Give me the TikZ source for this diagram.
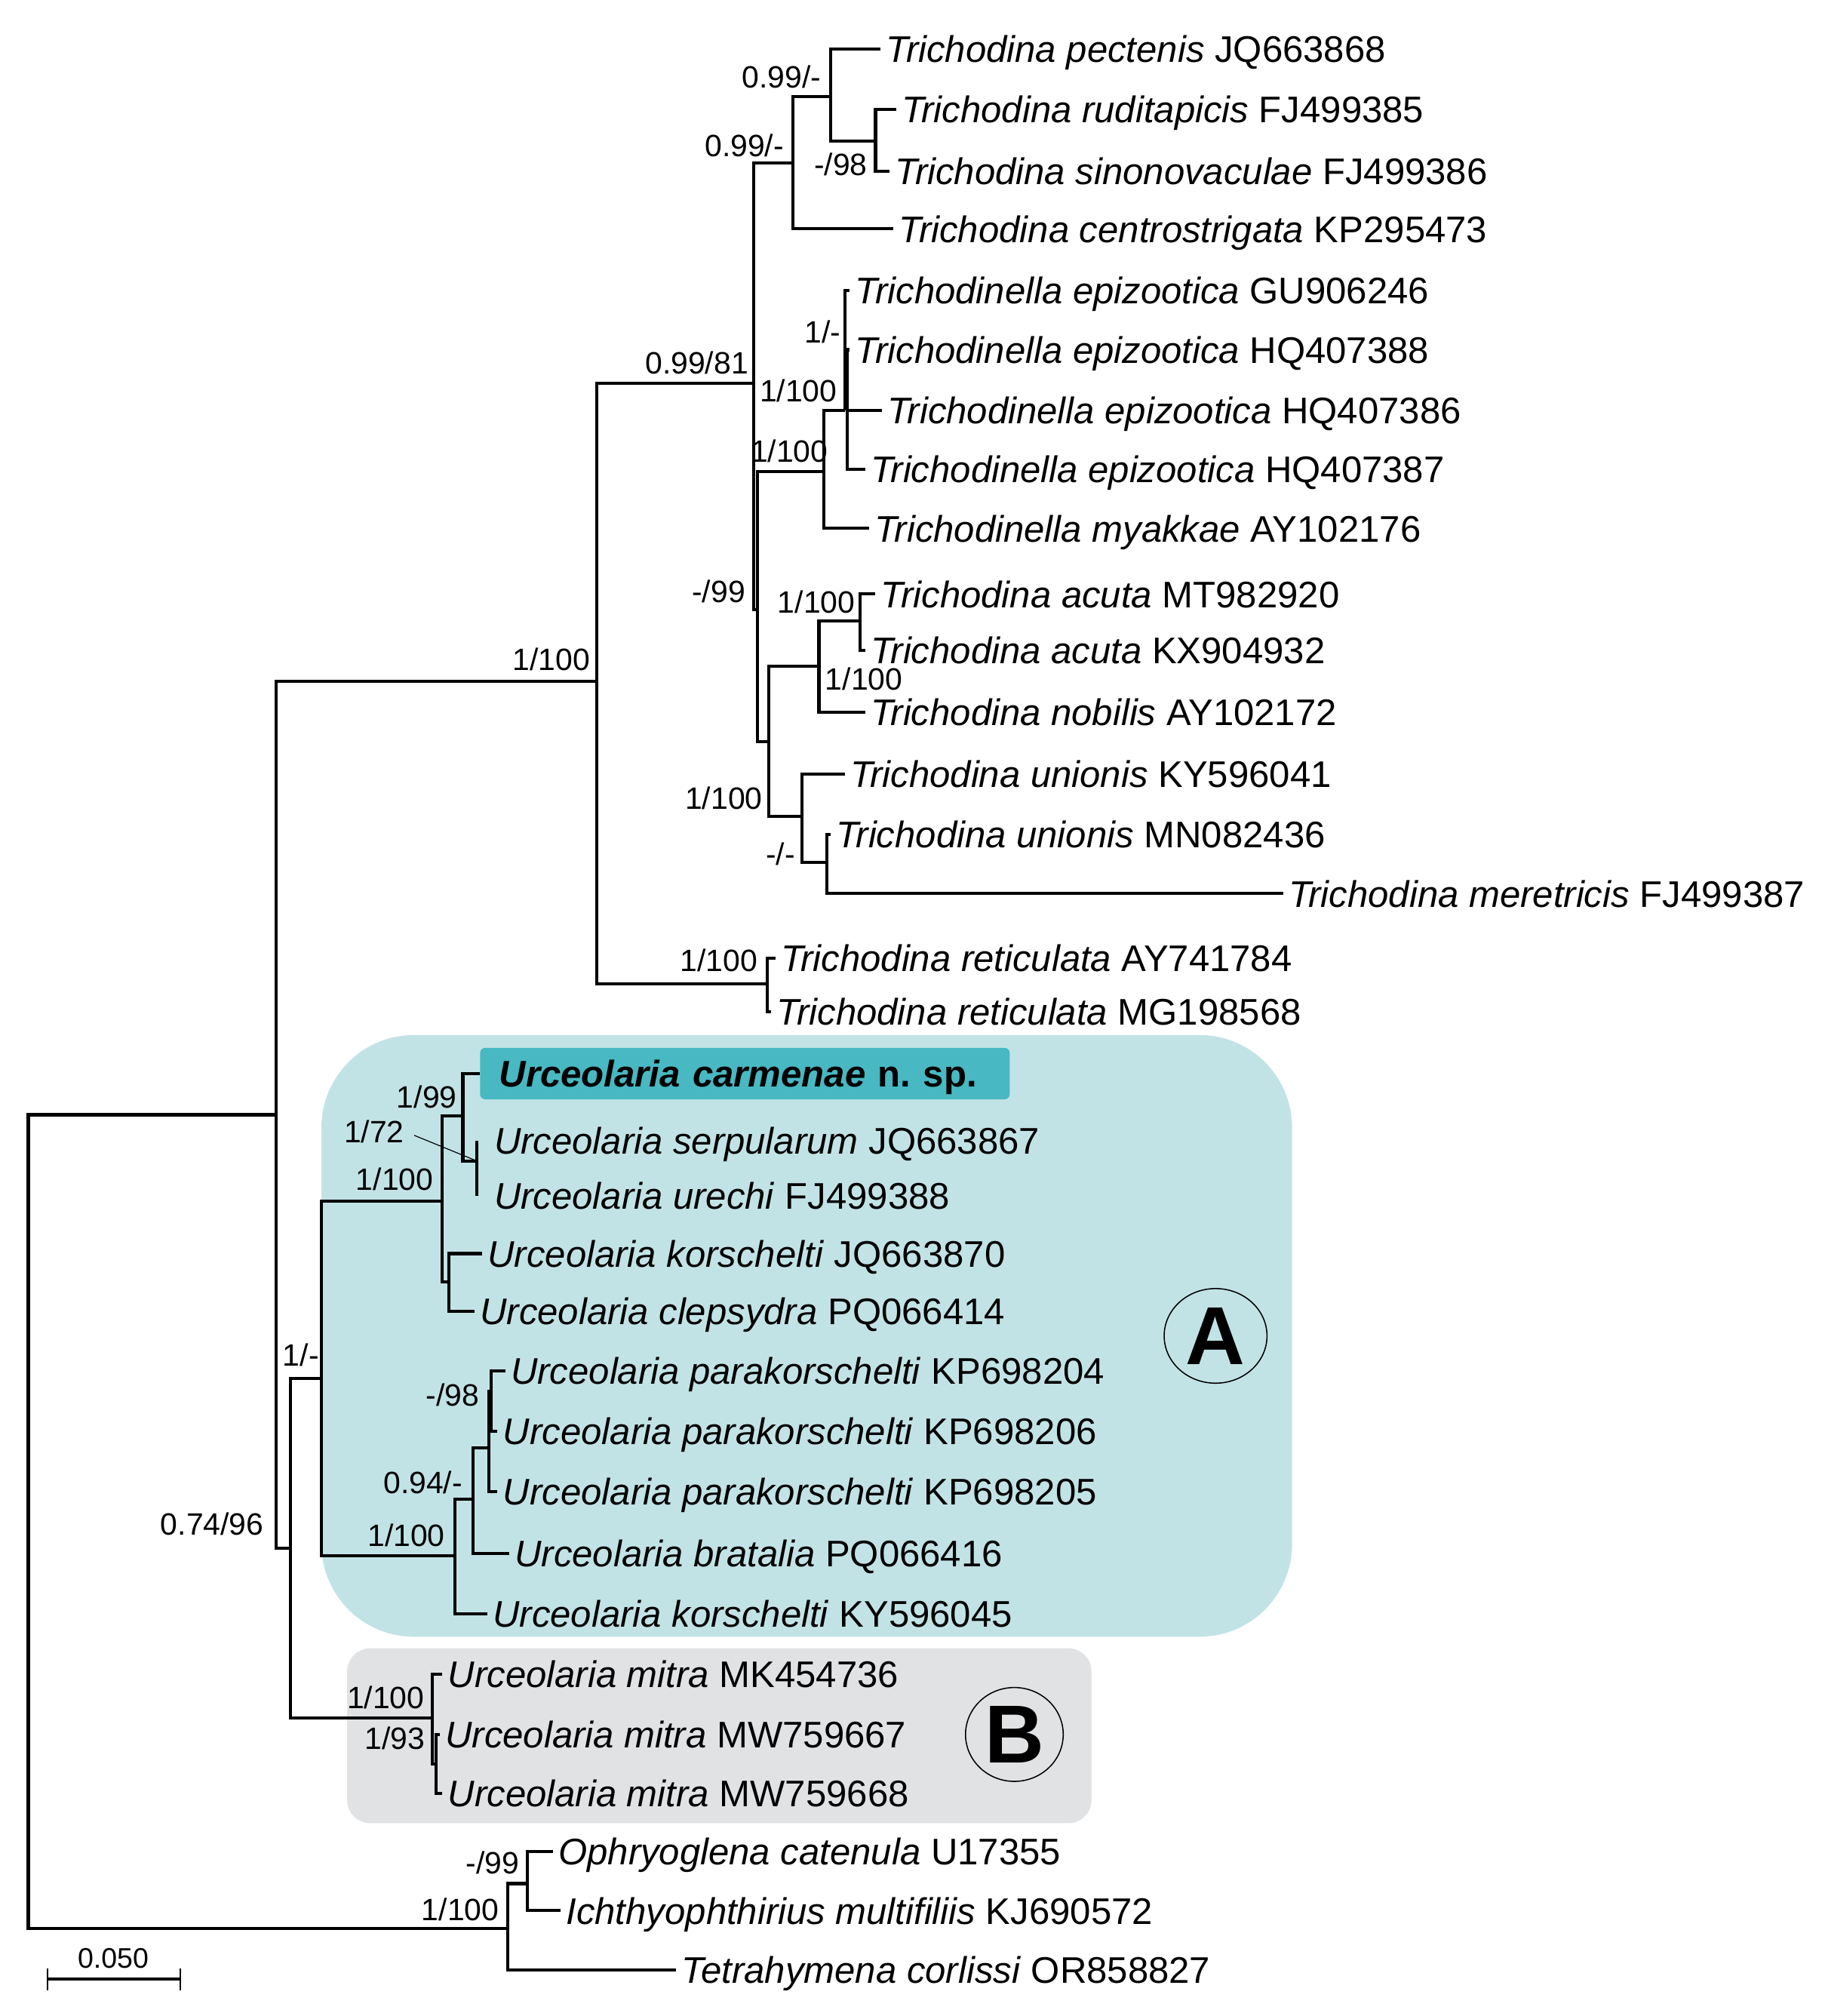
\documentclass[tikz,border=0pt]{standalone}
\usepackage{fontspec}
\setmainfont{Liberation Sans}
\usepackage{xcolor}
\usetikzlibrary{shapes.geometric}
\frenchspacing

\definecolor{cladeAfill}{HTML}{C2E3E6}
\definecolor{cladeBfill}{HTML}{E1E2E4}
\definecolor{newspfill}{HTML}{48B8C2}

\newcommand{\taxon}[2]{\textit{#1} #2}

\begin{document}
\begin{tikzpicture}[
    x=0.5pt, y=-0.5pt,
    branch/.style={line width=1.2pt},
    leaf/.style={anchor=west, inner xsep=2pt, inner ysep=0pt, text height=10.4pt, text depth=0pt, font=\fontsize{14.4}{17}\selectfont},
    leafgap/.style={leaf, inner xsep=6.5pt},
    sup/.style={inner sep=0pt, text height=8.6pt, text depth=0pt, font=\fontsize{12}{14}\selectfont},
    newspbox/.style={anchor=west, fill=newspfill, rounded corners=2pt, inner xsep=7.5pt, inner ysep=4.8pt, text width=191pt, align=left, text height=10.4pt, text depth=0pt, font=\fontsize{14.4}{17}\selectfont\bfseries},
    cladetag/.style={ellipse, draw, line width=0.45pt, inner sep=0pt, font=\fontsize{32}{36}\selectfont\bfseries},
    leader/.style={line width=0.35pt}
]
\useasboundingbox (0,0) rectangle (1419,1568);

% clade boxes
\fill[cladeAfill, rounded corners=36pt] (250,805) rectangle (1005,1273);
\fill[cladeBfill, rounded corners=9pt] (270,1282) rectangle (849,1418);

% internal nodes
\coordinate (root) at (22,1184);
\coordinate (ingr) at (215,867);
\coordinate (trich) at (464,530);
\coordinate (n9981) at (586,298);
\coordinate (n99a) at (617,127);
\coordinate (n99b) at (646,75);
\coordinate (n98a) at (681,110);
\coordinate (n99c) at (589,474);
\coordinate (tnella) at (641,367);
\coordinate (epi) at (657,319);
\coordinate (epib) at (659,272);
\coordinate (acun) at (598,577);
\coordinate (acnob) at (637,518);
\coordinate (acuta) at (669,483);
\coordinate (union) at (624,635);
\coordinate (meret) at (643,671);
\coordinate (retic) at (597,765);
\coordinate (urceo) at (226,1204);
\coordinate (cladeA) at (250,1072);
\coordinate (ua100) at (344,934);
\coordinate (u199) at (360,868);
\coordinate (u172) at (371,903);
\coordinate (ukc) at (349,997);
\coordinate (ub100) at (354,1210);
\coordinate (u094) at (368,1166);
\coordinate (u098) at (380,1126);
\coordinate (upk) at (382,1082);
\coordinate (cladeB) at (336,1336);
\coordinate (umw) at (339,1372);
\coordinate (outg) at (395,1500);
\coordinate (ophic) at (410,1465);

% taxa
\node[leaf] (pect) at (685,38) {\taxon{Trichodina pectenis}{JQ663868}};
\node[leaf] (rudi) at (697,85) {\taxon{Trichodina ruditapicis}{FJ499385}};
\node[leaf] (sino) at (692,133) {\taxon{Trichodina sinonovaculae}{FJ499386}};
\node[leaf] (centro) at (695,178) {\taxon{Trichodina centrostrigata}{KP295473}};
\node[leaf] (gu246) at (661,226) {\taxon{Trichodinella epizootica}{GU906246}};
\node[leaf] (hq388) at (661,272) {\taxon{Trichodinella epizootica}{HQ407388}};
\node[leaf] (hq386) at (686,319) {\taxon{Trichodinella epizootica}{HQ407386}};
\node[leaf] (hq387) at (673,365) {\taxon{Trichodinella epizootica}{HQ407387}};
\node[leaf] (myak) at (676,411) {\taxon{Trichodinella myakkae}{AY102176}};
\node[leaf] (mt920) at (681,462) {\taxon{Trichodina acuta}{MT982920}};
\node[leaf] (kx932) at (673,506) {\taxon{Trichodina acuta}{KX904932}};
\node[leaf] (nobil) at (673,554) {\taxon{Trichodina nobilis}{AY102172}};
\node[leaf] (ky041) at (657,602) {\taxon{Trichodina unionis}{KY596041}};
\node[leaf] (mn436) at (646,649) {\taxon{Trichodina unionis}{MN082436}};
\node[leaf] (mere) at (998,695) {\taxon{Trichodina meretricis}{FJ499387}};
\node[leaf] (ay784) at (603,745) {\taxon{Trichodina reticulata}{AY741784}};
\node[leaf] (mg568) at (600,787) {\taxon{Trichodina reticulata}{MG198568}};
\node[newspbox] (carm) at (373,835) {\textit{Urceolaria carmenae} n. sp.};
\node[leafgap] (serp) at (371,887) {\taxon{Urceolaria serpularum}{JQ663867}};
\node[leafgap] (urech) at (371,930) {\taxon{Urceolaria urechi}{FJ499388}};
\node[leaf] (korjq) at (375,975) {\taxon{Urceolaria korschelti}{JQ663870}};
\node[leaf] (clep) at (369,1020) {\taxon{Urceolaria clepsydra}{PQ066414}};
\node[leaf] (pk204) at (393,1066) {\taxon{Urceolaria parakorschelti}{KP698204}};
\node[leaf] (pk206) at (387,1113) {\taxon{Urceolaria parakorschelti}{KP698206}};
\node[leaf] (pk205) at (387,1160) {\taxon{Urceolaria parakorschelti}{KP698205}};
\node[leaf] (brat) at (396,1208) {\taxon{Urceolaria bratalia}{PQ066416}};
\node[leaf] (korky) at (379,1255) {\taxon{Urceolaria korschelti}{KY596045}};
\node[leaf] (mk736) at (344,1302) {\taxon{Urceolaria mitra}{MK454736}};
\node[leaf] (mw667) at (342,1349) {\taxon{Urceolaria mitra}{MW759667}};
\node[leaf] (mw668) at (344,1395) {\taxon{Urceolaria mitra}{MW759668}};
\node[leaf] (ophry) at (430,1440) {\taxon{Ophryoglena catenula}{U17355}};
\node[leaf] (ichth) at (436,1486) {\taxon{Ichthyophthirius multifiliis}{KJ690572}};
\node[leaf] (tetra) at (526,1532) {\taxon{Tetrahymena corlissi}{OR858827}};

% branches
\draw[branch] (root) |- (ingr);
\draw[branch] (root) |- (outg);
\draw[branch] (ingr) |- (trich);
\draw[branch] (ingr) |- (urceo);
\draw[branch] (trich) |- (n9981);
\draw[branch] (trich) |- (retic);
\draw[branch] (n9981) |- (n99a);
\draw[branch] (n9981) |- (n99c);
\draw[branch] (n99a) |- (n99b);
\draw[branch] (n99a) |- (centro.west);
\draw[branch] (n99b) |- (pect.west);
\draw[branch] (n99b) |- (n98a);
\draw[branch] (n98a) |- (rudi.west);
\draw[branch] (n98a) |- (sino.west);
\draw[branch] (n99c) |- (tnella);
\draw[branch] (n99c) |- (acun);
\draw[branch] (tnella) |- (epi);
\draw[branch] (tnella) |- (myak.west);
\draw[branch] (epi) |- (gu246.west);
\draw[branch] (epi) |- (epib);
\draw[branch] (epib) |- (hq388.west);
\draw[branch] (epib) |- (hq386.west);
\draw[branch] (epib) |- (hq387.west);
\draw[branch] (acun) |- (acnob);
\draw[branch] (acun) |- (union);
\draw[branch] (acnob) |- (acuta);
\draw[branch] (acnob) |- (nobil.west);
\draw[branch] (acuta) |- (mt920.west);
\draw[branch] (acuta) |- (kx932.west);
\draw[branch] (union) |- (ky041.west);
\draw[branch] (union) |- (meret);
\draw[branch] (meret) |- (mn436.west);
\draw[branch] (meret) |- (mere.west);
\draw[branch] (retic) |- (ay784.west);
\draw[branch] (retic) |- (mg568.west);
\draw[branch] (urceo) |- (cladeA);
\draw[branch] (urceo) |- (cladeB);
\draw[branch] (cladeA) |- (ua100);
\draw[branch] (cladeA) |- (ub100);
\draw[branch] (ua100) |- (u199);
\draw[branch] (ua100) |- (ukc);
\draw[branch] (u199) |- (carm.west);
\draw[branch] (u199) |- (u172);
\draw[branch] (u172) |- (serp.west);
\draw[branch] (u172) |- (urech.west);
\draw[branch] (ukc) |- (korjq.west);
\draw[branch] (ukc) |- (clep.west);
\draw[branch] (ub100) |- (u094);
\draw[branch] (ub100) |- (korky.west);
\draw[branch] (u094) |- (u098);
\draw[branch] (u094) |- (brat.west);
\draw[branch] (u098) |- (upk);
\draw[branch] (u098) |- (pk205.west);
\draw[branch] (upk) |- (pk204.west);
\draw[branch] (upk) |- (pk206.west);
\draw[branch] (cladeB) |- (mk736.west);
\draw[branch] (cladeB) |- (umw);
\draw[branch] (umw) |- (mw667.west);
\draw[branch] (umw) |- (mw668.west);
\draw[branch] (outg) |- (ophic);
\draw[branch] (outg) |- (tetra.west);
\draw[branch] (ophic) |- (ophry.west);
\draw[branch] (ophic) |- (ichth.west);

% support values
\node[sup] (s99a) at (608,60) {0.99/-};
\node[sup] (s99b) at (579,113) {0.99/-};
\node[sup] (s98a) at (654,128) {-/98};
\node[sup] (s1a) at (640,258) {1/-};
\node[sup] (s9981) at (542,282) {0.99/81};
\node[sup] (s100epi) at (621,304) {1/100};
\node[sup] (s100tn) at (614,351) {1/100};
\node[sup] (s99c) at (559,460) {-/99};
\node[sup] (s100ac) at (635,468) {1/100};
\node[sup] (s100an) at (672,528) {1/100};
\node[sup] (s100tr) at (429,513) {1/100};
\node[sup] (s100un) at (563,621) {1/100};
\node[sup] (snone) at (607,664) {-/-};
\node[sup] (s100re) at (559,747) {1/100};
\node[sup] (s199) at (332,853) {1/99};
\node[sup] (s172) at (291,880) {1/72};
\node[sup] (s100ua) at (307,917) {1/100};
\node[sup] (s1b) at (234,1054) {1/-};
\node[sup] (s98b) at (352,1085) {-/98};
\node[sup] (s094) at (329,1153) {0.94/-};
\node[sup] (s100ub) at (316,1194) {1/100};
\node[sup] (s7496) at (165,1185) {0.74/96};
\node[sup] (s100mi) at (300,1320) {1/100};
\node[sup] (s193) at (307,1352) {1/93};
\node[sup] (s99og) at (383,1449) {-/99};
\node[sup] (s100og) at (358,1485) {1/100};

\draw[leader, shorten <=4pt] (s172.east) -- (u172);

% clade tags
\node[cladetag, minimum width=40pt, minimum height=36.8pt] (tagA) at (945.5,1039) {A};
\node[cladetag, minimum width=38pt, minimum height=36.5pt] (tagB) at (789,1349) {B};

% scale bar
\coordinate (sbl) at (37,1539);
\coordinate (sbr) at (140,1539);
\draw[branch] (sbl) -- (sbr);
\draw[line width=0.6pt] (sbl) ++(0,-8) -- ++(0,17);
\draw[line width=0.6pt] (sbr) ++(0,-8) -- ++(0,17);
\node[inner sep=0pt, font=\fontsize{11}{13}\selectfont] (sblbl) at (88,1523) {0.050};
\end{tikzpicture}
\end{document}
